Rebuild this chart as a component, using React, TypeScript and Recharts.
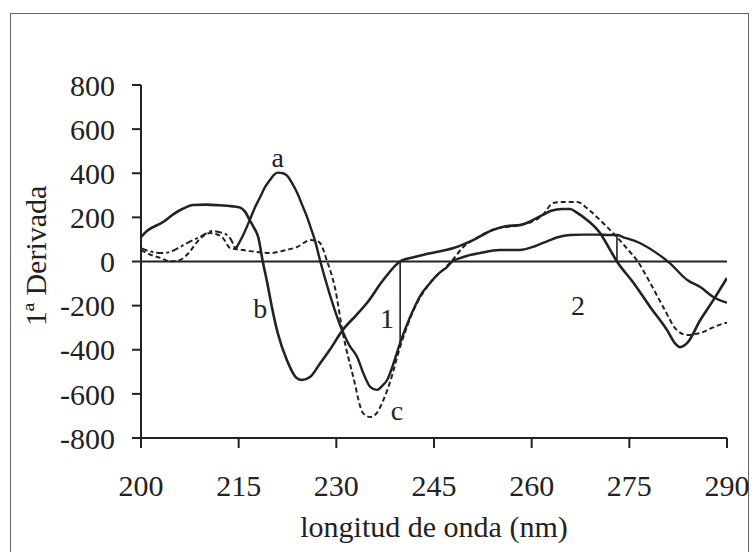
import React from 'react';
import {
  LineChart,
  Line,
  XAxis,
  YAxis,
  ReferenceLine,
  ReferenceDot,
  Label,
} from 'recharts';

const FONT = "'Liberation Serif', 'Times New Roman', serif";
const INK = '#222';

// wavelength ticks (nm) and derivative ticks
const xTicks = [200, 215, 230, 245, 260, 275, 290];
const yTicks = [-800, -600, -400, -200, 0, 200, 400, 600, 800];

// curve a, left wavy part (dashed)
const aLeftNm = [200, 201.5, 203.4, 205, 206, 207.5, 209, 211, 212.2, 213.2, 214.1, 214.5];
const aLeftVal = [61, 45, 38, 50, 66, 90, 111, 138, 132, 120, 84, 55];

// curve a, main part (solid)
const aNm = [
  214.5, 215.7, 216.7, 217.5, 218.3, 219, 219.8, 220.5, 221, 221.8, 222.4, 223.2, 224, 224.7,
  225.5, 226.1, 226.7, 227.5, 229, 231, 232, 233.2, 234.2, 235.2, 236.2, 237, 237.8, 238.8,
  239.8, 240.8, 241.8, 243, 244.4, 245.7, 247, 247.8, 249, 250, 252, 255.1, 258.2, 260.2,
  262.8, 264, 265.9, 268, 270, 272, 273.1, 274, 276.6, 279.2, 281.2, 283.9, 285.9, 287.9,
  289.7, 290,
];
const aVal = [
  55, 120, 188, 245, 292, 335, 369, 395, 403, 400, 390, 355, 310, 260,
  202, 150, 97, 5, -150, -320, -380, -433, -510, -568, -582, -565, -537, -460,
  -369, -290, -220, -150, -97, -55, -25, 0, 15, 25, 38, 52, 52, 66,
  97, 110, 120, 122, 122, 120, 120, 111, 84, 38, -7, -84, -116, -161,
  -184, -186,
];

// curve b (solid)
const bNm = [
  200, 201, 203.4, 205, 206.5, 208, 210, 212, 214, 215.2, 216, 216.7, 217.4, 218, 218.7,
  219.4, 220.1, 221, 222.4, 223.9, 224.7, 226, 227.5, 229, 231, 233, 234.7, 237.2, 239.8,
  242, 244, 248, 251, 254, 256, 258.2, 260, 261.7, 263, 264.7, 265.9, 267, 268.5, 270.5,
  272, 273.1, 275.6, 278.2, 280.8, 282, 282.8, 283.9, 285.9, 287.9, 290,
];
const bVal = [
  111, 140, 179, 215, 240, 256, 258, 255, 250, 245, 225, 188, 150, 111, 0,
  -98, -206, -324, -446, -528, -537, -522, -462, -400, -310, -245, -188, -84, 0,
  20, 35, 61, 97, 143, 160, 165, 185, 211, 230, 238, 238, 220, 188, 129,
  55, 0, -95, -206, -311, -370, -388, -369, -265, -175, -75,
];

// curve c (dashed)
const cNm = [
  200, 201.5, 203, 204.5, 206, 207.5, 208.6, 210.6, 211.5, 212.6, 213.7, 215.7, 217.8, 219.8,
  222, 224, 226, 226.8, 227.5, 228.6, 229.8, 231, 232.6, 234.1, 235.2, 236.2, 237.2, 238.2,
  239.8, 241.8, 244.4, 247, 247.8, 249.5, 251, 254, 258, 260, 261.7, 263.3, 264.7, 267,
  268.5, 270, 271.6, 273.1, 274.6, 276.3, 278.2, 280.2, 282.3, 283.9, 285.9, 287.8, 289.7, 290,
];
const cVal = [
  52, 30, 16, 0, 7, 45, 88, 129, 125, 106, 61, 52, 43, 38,
  50, 66, 97, 95, 84, 0, -120, -324, -523, -687, -705, -687, -630, -551,
  -387, -225, -97, -20, 5, 66, 97, 143, 165, 180, 211, 265, 270, 270,
  242, 202, 156, 111, 60, 0, -97, -206, -311, -333, -324, -300, -279, -277,
];

// annotations
const curveLabels = ['a', 'b', 'c', '1', '2'];
const labelNm = [221, 218.3, 239.3, 237.8, 267.1];
const labelVal = [474, -211, -673, -256, -197];

// zero-crossing measurement lines
const zc1Nm = 239.8;
const zc1Val = -369;
const zc2Nm = 273.1;
const zc2Val = 120;

const toPts = (nm: number[], v: number[]) => nm.map((x, i) => ({ x, y: v[i] }));

const aLeft = toPts(aLeftNm, aLeftVal);
const aMain = toPts(aNm, aVal);
const bData = toPts(bNm, bVal);
const cData = toPts(cNm, cVal);

export default function App() {
  return (
    <div
      style={{
        position: 'absolute',
        left: 0,
        top: 0,
        width: 753,
        height: 552,
        overflow: 'hidden',
        background: '#fff',
        fontFamily: FONT,
      }}
    >
      <div
        style={{
          position: 'absolute',
          left: 10,
          top: 13,
          width: 739,
          height: 560,
          boxSizing: 'border-box',
          border: '1.5px solid #666',
        }}
      />
      <div style={{ position: 'absolute', left: 0, top: 0 }}>
        <LineChart
          width={753}
          height={552}
          margin={{ top: 85, right: 26, bottom: 0, left: 0 }}
        >
          <XAxis
            dataKey="x"
            type="number"
            domain={[200, 290]}
            ticks={xTicks}
            allowDataOverflow
            height={114}
            tickSize={10}
            tickMargin={27}
            axisLine={{ stroke: INK, strokeWidth: 2 }}
            tickLine={{ stroke: INK, strokeWidth: 2 }}
            tick={{ fontSize: 30, fill: INK, fontFamily: FONT }}
          >
            <Label
              value="longitud de onda (nm)"
              position="insideBottom"
              offset={15}
              style={{ fontSize: 30, fill: INK, fontFamily: FONT }}
            />
          </XAxis>
          <YAxis
            type="number"
            domain={[-800, 800]}
            ticks={yTicks}
            allowDataOverflow
            width={141}
            tickSize={9}
            tickMargin={17}
            axisLine={{ stroke: INK, strokeWidth: 2 }}
            tickLine={{ stroke: INK, strokeWidth: 2 }}
            tick={{ fontSize: 30, fill: INK, fontFamily: FONT }}
          >
            <Label
              content={() => (
                <text
                  x={35}
                  y={256}
                  transform="rotate(-90 35 256)"
                  textAnchor="middle"
                  dominantBaseline="central"
                  fontSize={30}
                  fill={INK}
                  fontFamily={FONT}
                >
                  1ª Derivada
                </text>
              )}
            />
          </YAxis>
          <ReferenceLine y={0} stroke={INK} strokeWidth={2} />
          <ReferenceLine
            segment={[
              { x: zc1Nm, y: 0 },
              { x: zc1Nm, y: zc1Val },
            ]}
            stroke={INK}
            strokeWidth={1.6}
          />
          <ReferenceLine
            segment={[
              { x: zc2Nm, y: 0 },
              { x: zc2Nm, y: zc2Val },
            ]}
            stroke={INK}
            strokeWidth={1.6}
          />
          <Line
            data={aLeft}
            dataKey="y"
            type="monotone"
            stroke={INK}
            strokeWidth={2}
            strokeDasharray="7 3 3 3"
            dot={false}
            isAnimationActive={false}
          />
          <Line
            data={aMain}
            dataKey="y"
            type="monotone"
            stroke={INK}
            strokeWidth={2.4}
            dot={false}
            isAnimationActive={false}
          />
          <Line
            data={bData}
            dataKey="y"
            type="monotone"
            stroke={INK}
            strokeWidth={2.6}
            dot={false}
            isAnimationActive={false}
          />
          <Line
            data={cData}
            dataKey="y"
            type="monotone"
            stroke={INK}
            strokeWidth={2}
            strokeDasharray="5 3"
            dot={false}
            isAnimationActive={false}
          />
          {curveLabels.map((t, i) => (
            <ReferenceDot
              key={t}
              x={labelNm[i]}
              y={labelVal[i]}
              r={0}
              fill="none"
              stroke="none"
              label={{
                value: t,
                position: 'center',
                fontSize: 28,
                fill: INK,
                fontFamily: FONT,
              }}
            />
          ))}
        </LineChart>
      </div>
    </div>
  );
}
